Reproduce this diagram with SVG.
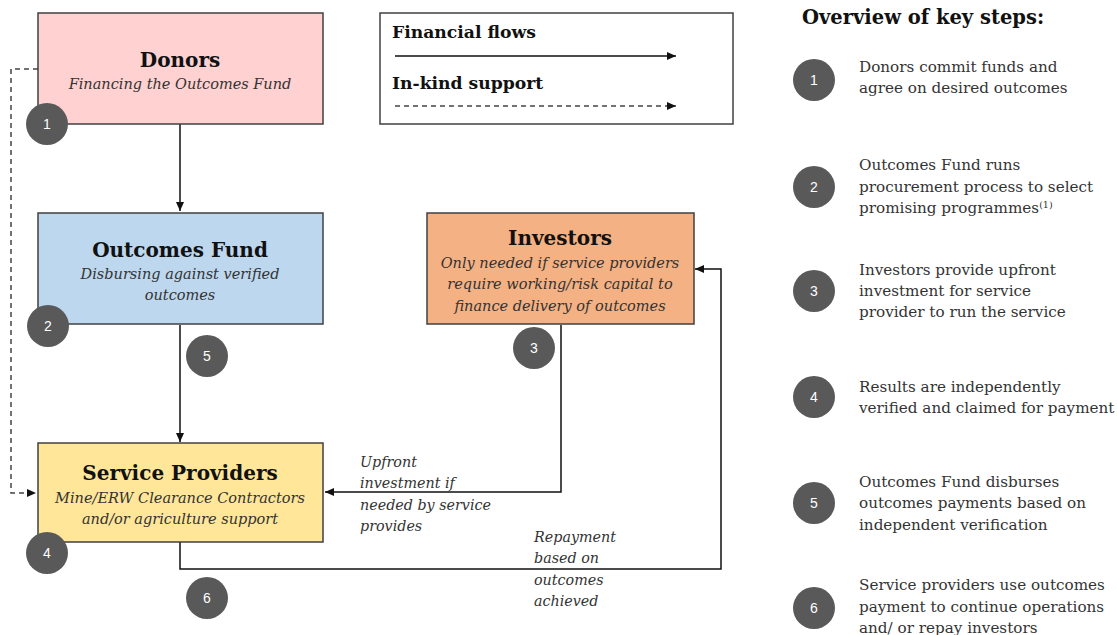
<svg xmlns="http://www.w3.org/2000/svg" width="1117" height="635" viewBox="0 0 1117 635">
<style>
.box{stroke:#404040;stroke-width:1.5}
.title{font-family:"DejaVu Serif",serif;font-weight:bold;font-size:20px;fill:#111;text-anchor:middle}
.sub{font-family:"DejaVu Serif",serif;font-style:italic;font-size:14.5px;fill:#333;text-anchor:middle}
.lbl{font-family:"DejaVu Serif",serif;font-style:italic;font-size:14.3px;fill:#333}
.leg{font-family:"DejaVu Serif",serif;font-weight:bold;font-size:17.2px;fill:#111}
.head{font-family:"DejaVu Serif",serif;font-weight:bold;font-size:19.5px;fill:#111}
.step{font-family:"DejaVu Serif",serif;font-size:15.2px;fill:#333}
.num circle{fill:#595959}
.num text{font-family:"Liberation Sans",sans-serif;font-size:14px;fill:#fff;text-anchor:middle}
.line{fill:none;stroke:#111;stroke-width:1.5}
.dash{fill:none;stroke:#444;stroke-width:1.5;stroke-dasharray:5,4}
</style>
<defs>
<marker id="ah" markerWidth="10" markerHeight="10" refX="9" refY="5" orient="auto" markerUnits="userSpaceOnUse">
<path d="M0,1 L9,5 L0,9 Z" fill="#111"/>
</marker>
</defs>
<g id="connectors">
<path class="line" d="M180,124 V211" marker-end="url(#ah)"/>
<path class="line" d="M180,325 V442" marker-end="url(#ah)"/>
<path class="line" d="M561,325 V492 H325" marker-end="url(#ah)"/>
<path class="line" d="M180,542 V569 H721 V269 H695" marker-end="url(#ah)"/>
<path class="dash" d="M38,69 H11 V493 H36" marker-end="url(#ah)"/>
</g>
<g id="donors">
<rect class="box" x="38" y="13" width="285" height="111" fill="#ffd1d1"/>
<text class="title" x="180" y="67">Donors</text>
<text class="sub" x="180" y="89">Financing the Outcomes Fund</text>
</g>
<g id="legend">
<rect x="380" y="13" width="353" height="111" fill="#fff" stroke="#404040" stroke-width="1.5"/>
<text class="leg" x="392" y="38">Financial flows</text>
<path class="line" d="M395,56 H676" marker-end="url(#ah)"/>
<text class="leg" x="392" y="89">In-kind support</text>
<path class="dash" d="M395,106 H676" marker-end="url(#ah)"/>
</g>
<g id="outcomes-fund">
<rect class="box" x="38" y="213" width="285" height="111" fill="#bdd7ee"/>
<text class="title" x="180" y="257">Outcomes Fund</text>
<text class="sub" x="180" y="279">Disbursing against verified</text>
<text class="sub" x="180" y="300">outcomes</text>
</g>
<g id="investors">
<rect class="box" x="427" y="213" width="267" height="111" fill="#f4b183"/>
<text class="title" x="560" y="245">Investors</text>
<text class="sub" x="560" y="268">Only needed if service providers</text>
<text class="sub" x="560" y="289">require working/risk capital to</text>
<text class="sub" x="560" y="311">finance delivery of outcomes</text>
</g>
<g id="service-providers">
<rect class="box" x="38" y="443" width="285" height="99" fill="#ffe699"/>
<text class="title" x="180" y="480">Service Providers</text>
<text class="sub" x="180" y="503">Mine/ERW Clearance Contractors</text>
<text class="sub" x="180" y="524">and/or agriculture support</text>
</g>
<g id="label-upfront">
<text class="lbl" x="360" y="467">Upfront</text>
<text class="lbl" x="360" y="488">investment if</text>
<text class="lbl" x="360" y="510">needed by service</text>
<text class="lbl" x="360" y="531">provides</text>
</g>
<g id="label-repayment">
<text class="lbl" x="534" y="542">Repayment</text>
<text class="lbl" x="534" y="563">based on</text>
<text class="lbl" x="534" y="585">outcomes</text>
<text class="lbl" x="534" y="606">achieved</text>
</g>
<g id="badges" class="num">
<circle cx="47" cy="124" r="21"/><text x="47" y="129">1</text>
<circle cx="48" cy="326" r="21"/><text x="48" y="331">2</text>
<circle cx="207" cy="356" r="21"/><text x="207" y="361">5</text>
<circle cx="534" cy="348" r="21"/><text x="534" y="353">3</text>
<circle cx="47" cy="553" r="21"/><text x="47" y="558">4</text>
<circle cx="207" cy="598" r="21"/><text x="207" y="603">6</text>
</g>
<g id="overview">
<text class="head" x="802" y="24">Overview of key steps:</text>
<g class="num">
<circle cx="814" cy="80" r="21"/><text x="814" y="85">1</text>
<circle cx="814" cy="187" r="21"/><text x="814" y="192">2</text>
<circle cx="814" cy="291" r="21"/><text x="814" y="296">3</text>
<circle cx="814" cy="397" r="21"/><text x="814" y="402">4</text>
<circle cx="814" cy="503" r="21"/><text x="814" y="508">5</text>
<circle cx="814" cy="608" r="21"/><text x="814" y="613">6</text>
</g>
<text class="step" x="859" y="72">Donors commit funds and</text>
<text class="step" x="859" y="93">agree on desired outcomes</text>
<text class="step" x="859" y="170">Outcomes Fund runs</text>
<text class="step" x="859" y="192">procurement process to select</text>
<text class="step" x="859" y="213">promising programmes<tspan style="font-size:9.5px" dy="-5">(1)</tspan></text>
<text class="step" x="859" y="275">Investors provide upfront</text>
<text class="step" x="859" y="296">investment for service</text>
<text class="step" x="859" y="317">provider to run the service</text>
<text class="step" x="859" y="392">Results are independently</text>
<text class="step" x="859" y="413">verified and claimed for payment</text>
<text class="step" x="859" y="487">Outcomes Fund disburses</text>
<text class="step" x="859" y="508">outcomes payments based on</text>
<text class="step" x="859" y="530">independent verification</text>
<text class="step" x="859" y="590">Service providers use outcomes</text>
<text class="step" x="859" y="612">payment to continue operations</text>
<text class="step" x="859" y="633">and/ or repay investors</text>
</g>
</svg>
